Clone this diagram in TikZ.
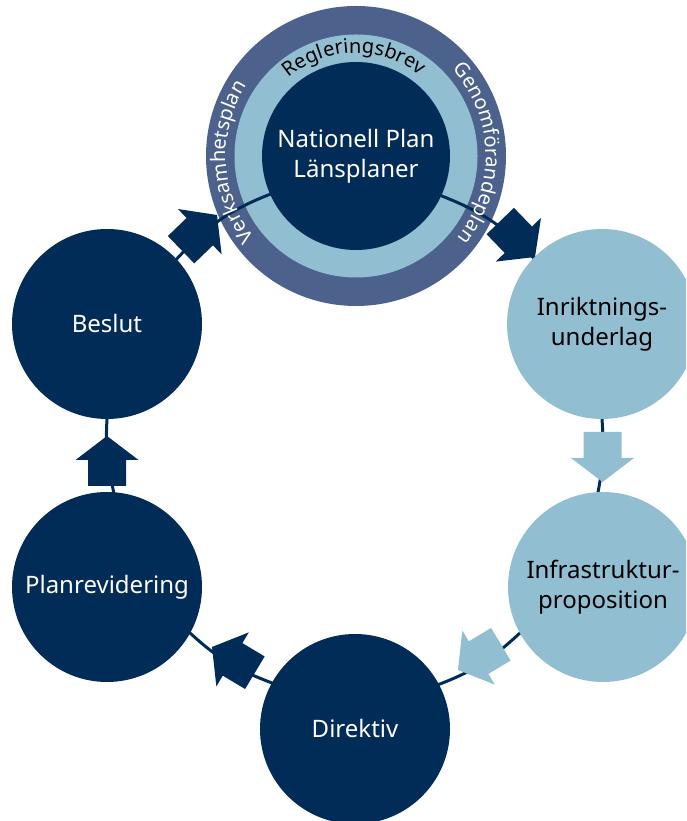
\documentclass[tikz,border=0pt]{standalone}
\usepackage{fontspec}
\setmainfont{Noto Sans}
\usetikzlibrary{decorations.text}

\definecolor{navy}{RGB}{2,44,88}
\definecolor{paleblue}{RGB}{146,190,209}
\definecolor{slate}{RGB}{76,98,140}

\pgfdeclarelayer{rings}
\pgfdeclarelayer{links}
\pgfsetlayers{rings,links,main}

\newcommand\ringfont{\fontsize{20}{24}\selectfont}

\tikzset{
  stage/.style={circle, minimum size=190pt, inner sep=0pt, outer sep=0pt,
    align=center, font=\fontsize{24}{30}\selectfont},
  darkstage/.style={stage, fill=navy, text=white},
  lightstage/.style={stage, fill=paleblue, text=black},
  link/.style={draw=navy, line width=3pt, shorten <=-3pt, shorten >=-3pt},
  % block arrow with its tip at the origin, pointing along +x
  blockarrow/.pic={
    \path[pic actions] (0,0) -- (-24,31.5) -- (-24,19) -- (-50,19)
      -- (-50,-19) -- (-24,-19) -- (-24,-31.5) -- cycle;
  },
  ringlabel/.style n args={2}{decorate, decoration={text along path,
    text align=center, text color=#1, text={|\ringfont|#2}}}
}

\begin{document}
\begin{tikzpicture}[x=1pt, y=1pt]
  \useasboundingbox (0,0) rectangle (686,821);
  \clip (0,0) rectangle (686,821);

  % stages of the cycle
  \node[darkstage, minimum size=188pt] (plan) at (356,665) {Nationell Plan\\Länsplaner};
  \node[lightstage] (inrikt) at (602,497) {Inriktnings-\\underlag};
  \node[lightstage] (infra) at (603,234) {Infrastruktur-\\proposition};
  \node[darkstage] (direktiv) at (355,92) {Direktiv};
  \node[darkstage] (planrev) at (107,234) {Planrevidering};
  \node[darkstage] (beslut) at (107,497) {Beslut};

  % rings around the central plan
  \begin{pgfonlayer}{rings}
    \fill[slate] (plan.center) circle (150pt);
    \fill[paleblue] (plan.center) circle (121.5pt);
  \end{pgfonlayer}

  % connectors of the cycle
  \begin{pgfonlayer}{links}
    \draw[link] (plan.335.3) to[out=-21.3, in=132.5] (inrikt.136.3);
    \draw[link] (inrikt.270) to[out=-85.8, in=78.7] (infra.93.1);
    \draw[link] (infra.209) to[out=-137, in=20.4] (direktiv.28.6);
    \draw[link] (direktiv.151.4) to[out=159.6, in=-43] (planrev.331);
    \draw[link] (planrev.86.9) to[out=101.3, in=-94.2] (beslut.270);
    \draw[link] (beslut.43.7) to[out=47.5, in=-159.1] (plan.204.2);
  \end{pgfonlayer}

  % texts along the rings
  \path[ringlabel={black}{Regleringsbrev}]
    ([shift={(151:103pt)}]plan.center) arc[start angle=151, end angle=31, radius=103pt];
  \path[ringlabel={white}{Verksamhetsplan}]
    ([shift={(248:130pt)}]plan.center) arc[start angle=248, end angle=118, radius=130pt];
  \path[ringlabel={white}{Genomförandeplan}]
    ([shift={(66.5:130pt)}]plan.center) arc[start angle=66.5, end angle=-63.5, radius=130pt];

  % direction arrows on the connectors
  \pic[fill=navy, rotate=-46] at (535,564) {blockarrow};
  \pic[fill=paleblue, rotate=-90] at (602.5,339) {blockarrow};
  \pic[fill=paleblue, rotate=-149] at (458,151) {blockarrow};
  \pic[fill=navy, rotate=149] at (212,174) {blockarrow};
  \pic[fill=navy, rotate=90] at (107,385) {blockarrow};
  \pic[fill=navy, rotate=44] at (217,606) {blockarrow};
\end{tikzpicture}
\end{document}
